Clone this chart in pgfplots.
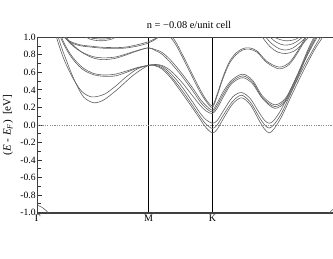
\documentclass[border=0pt]{standalone}
\usepackage{fontspec}
\setmainfont{Liberation Serif}
\usepackage{pgfplots}
\pgfplotsset{compat=1.18}
\usetikzlibrary{calc}

\pgfplotsset{band/.style={smooth, no markers, color=black!62, line width=0.6pt}}

\begin{document}
\begin{tikzpicture}
\begin{axis}[
  name=ax, at={(0,0)}, anchor=south west,
  width=302.6pt, height=175.4pt, scale only axis,
  xmin=0, xmax=2.732, ymin=-1, ymax=1,
  xtick={0,1,1.577}, xticklabels={Γ,M,K},
  xmajorgrids, x grid style={black, line width=1.1pt},
  xtick style={draw=none},
  xticklabel style={font=\fontsize{10}{11}\selectfont, yshift=1.5pt},
  ytick={-1,-0.8,-0.6,-0.4,-0.2,0,0.2,0.4,0.6,0.8,1},
  minor y tick num=1,
  ytick pos=left, tick align=inside,
  major tick length=4.5pt, minor tick length=3pt,
  ytick style={black!80, line width=0.9pt},
  yticklabel style={/pgf/number format/fixed, /pgf/number format/fixed zerofill,
    /pgf/number format/precision=1, /pgf/number format/assume math mode=true,
    font=\fontsize{9.6}{10}\selectfont, xshift=1.5pt},
  axis line style={black!75, line width=1.6pt},
  title={n = −0.08 e/unit cell},
  title style={font=\fontsize{10.4}{11}\selectfont, at={(axis description cs:0.5,1)}, anchor=south, yshift=-1pt},
  ylabel={(\textit{E} - \textit{E}\textsubscript{\textit{F}})\ \ [eV]},
  ylabel style={font=\fontsize{11}{12}\selectfont, at={(axis description cs:-0.098,0.5)}, anchor=center},
]
% Fermi level
\addplot[no markers, black!45, line width=0.6pt, dash pattern=on 1.2pt off 1.2pt] coordinates {(0,0) (2.732,0)};

% lowest pair
\addplot[band] coordinates {(0.10,1.45)(0.186,1.0)(0.264,0.72)(0.339,0.49)(0.414,0.32)(0.505,0.254)(0.595,0.285)(0.714,0.40)(0.865,0.57)(1.0,0.68)(1.06,0.675)(1.12,0.64)(1.2,0.54)(1.3,0.37)(1.4,0.19)(1.47,0.06)(1.52,-0.03)(1.577,-0.09)(1.62,-0.05)(1.68,0.08)(1.76,0.24)(1.84,0.31)(1.92,0.23)(2.0,0.05)(2.05,-0.05)(2.09,-0.09)(2.13,-0.05)(2.2,0.09)(2.3,0.36)(2.4,0.62)(2.5,0.86)(2.58,1.02)(2.64,1.2)};
\addplot[band] coordinates {(0.08,1.45)(0.17,1.0)(0.24,0.74)(0.32,0.53)(0.4,0.38)(0.49,0.32)(0.6,0.35)(0.7,0.44)(0.8,0.55)(0.9,0.64)(1.0,0.68)(1.06,0.68)(1.12,0.655)(1.2,0.56)(1.3,0.40)(1.4,0.22)(1.47,0.09)(1.52,0.01)(1.577,-0.04)(1.62,0.0)(1.68,0.12)(1.76,0.27)(1.84,0.34)(1.92,0.26)(2.0,0.09)(2.05,0.0)(2.09,-0.035)(2.13,0.0)(2.2,0.13)(2.3,0.40)(2.4,0.66)(2.5,0.89)(2.56,1.02)(2.62,1.2)};
% second pair
\addplot[band] coordinates {(0.1,1.45)(0.216,1.0)(0.3,0.80)(0.4,0.66)(0.5,0.59)(0.6,0.57)(0.7,0.58)(0.8,0.615)(0.9,0.655)(1.0,0.68)(1.06,0.685)(1.12,0.67)(1.2,0.59)(1.3,0.44)(1.4,0.26)(1.47,0.13)(1.52,0.06)(1.577,0.02)(1.62,0.05)(1.68,0.17)(1.76,0.32)(1.84,0.37)(1.92,0.30)(2.0,0.14)(2.05,0.05)(2.09,0.02)(2.13,0.05)(2.2,0.18)(2.3,0.45)(2.4,0.71)(2.5,0.95)(2.54,1.03)(2.6,1.2)};
\addplot[band] coordinates {(0.1,1.4)(0.206,1.0)(0.3,0.78)(0.4,0.64)(0.5,0.575)(0.6,0.555)(0.7,0.56)(0.8,0.60)(0.9,0.65)(1.0,0.68)(1.06,0.69)(1.12,0.68)(1.2,0.62)(1.3,0.49)(1.4,0.33)(1.47,0.22)(1.52,0.16)(1.577,0.13)(1.62,0.19)(1.68,0.33)(1.75,0.47)(1.85,0.54)(1.94,0.47)(2.03,0.30)(2.14,0.19)(2.24,0.27)(2.34,0.52)(2.44,0.82)(2.52,1.02)(2.58,1.2)};
% third pair
\addplot[band] coordinates {(0.2,1.2)(0.26,1.0)(0.33,0.9)(0.41,0.82)(0.5,0.765)(0.59,0.745)(0.7,0.76)(0.8,0.80)(0.9,0.845)(1.0,0.88)(1.06,0.85)(1.12,0.81)(1.2,0.71)(1.3,0.56)(1.4,0.39)(1.47,0.26)(1.52,0.19)(1.577,0.15)(1.62,0.22)(1.68,0.36)(1.75,0.49)(1.85,0.56)(1.94,0.49)(2.03,0.31)(2.14,0.21)(2.24,0.29)(2.34,0.54)(2.44,0.84)(2.51,1.02)(2.57,1.2)};
\addplot[band] coordinates {(0.19,1.2)(0.25,1.0)(0.32,0.9)(0.40,0.83)(0.5,0.78)(0.59,0.765)(0.7,0.775)(0.8,0.81)(0.9,0.85)(1.0,0.88)(1.06,0.86)(1.12,0.83)(1.2,0.74)(1.3,0.59)(1.4,0.42)(1.47,0.29)(1.52,0.22)(1.577,0.17)(1.62,0.25)(1.68,0.39)(1.75,0.51)(1.85,0.58)(1.94,0.51)(2.03,0.33)(2.14,0.23)(2.24,0.31)(2.34,0.56)(2.44,0.86)(2.5,1.02)(2.56,1.2)};
% fourth pair
\addplot[band] coordinates {(0.2,1.15)(0.246,1.0)(0.3,0.94)(0.38,0.905)(0.47,0.89)(0.6,0.875)(0.77,0.875)(0.9,0.90)(1.0,0.935)(1.06,0.975)(1.12,1.02)(1.18,1.02)(1.24,0.93)(1.3,0.79)(1.38,0.59)(1.46,0.39)(1.52,0.27)(1.577,0.20)(1.62,0.33)(1.67,0.52)(1.73,0.70)(1.79,0.80)(1.85,0.855)(1.91,0.865)(1.98,0.83)(2.07,0.71)(2.18,0.64)(2.27,0.69)(2.35,0.83)(2.43,1.01)(2.5,1.2)};
\addplot[band] coordinates {(0.19,1.15)(0.24,1.0)(0.3,0.95)(0.38,0.915)(0.47,0.90)(0.6,0.885)(0.77,0.885)(0.9,0.915)(1.0,0.95)(1.06,0.985)(1.12,1.03)(1.18,1.04)(1.24,0.96)(1.3,0.82)(1.38,0.62)(1.46,0.42)(1.52,0.29)(1.577,0.22)(1.62,0.35)(1.67,0.54)(1.73,0.72)(1.79,0.82)(1.85,0.87)(1.91,0.88)(1.98,0.845)(2.07,0.725)(2.18,0.66)(2.27,0.71)(2.35,0.85)(2.42,1.01)(2.5,1.2)};
% small arcs near the top, Gamma-M
\addplot[band] coordinates {(0.38,1.1)(0.44,1.0)(0.5,0.97)(0.57,0.96)(0.64,0.97)(0.7,1.0)(0.76,1.1)};
\addplot[band] coordinates {(0.42,1.08)(0.47,1.0)(0.52,0.985)(0.58,0.98)(0.64,0.985)(0.68,1.0)(0.73,1.08)};
% nested arcs near the top, K-Gamma
\addplot[band] coordinates {(1.96,1.15)(2.03,1.0)(2.1,0.89)(2.17,0.83)(2.24,0.815)(2.31,0.84)(2.38,0.91)(2.45,1.01)(2.5,1.12)};
\addplot[band] coordinates {(2.0,1.12)(2.06,1.0)(2.12,0.92)(2.18,0.87)(2.24,0.855)(2.3,0.875)(2.36,0.93)(2.43,1.01)(2.48,1.1)};
\addplot[band] coordinates {(2.04,1.1)(2.1,1.0)(2.16,0.94)(2.23,0.91)(2.3,0.925)(2.36,0.97)(2.4,1.01)(2.45,1.08)};
\addplot[band] coordinates {(2.09,1.08)(2.14,1.0)(2.2,0.97)(2.25,0.96)(2.31,0.97)(2.36,1.0)(2.41,1.08)};
% band just above -1 eV at Gamma
\addplot[band] coordinates {(0,-0.915)(0.04,-0.94)(0.08,-0.98)(0.12,-1.04)(0.16,-1.1)};
\addplot[band] coordinates {(2.57,-1.1)(2.61,-1.04)(2.65,-0.98)(2.69,-0.94)(2.732,-0.915)};
\end{axis}
\pgfresetboundingbox
\path[use as bounding box] ($(ax.south west)+(-37.7pt,-45.3pt)$) rectangle ($(ax.south west)+(295.3pt,212.7pt)$);
\end{tikzpicture}
\end{document}
